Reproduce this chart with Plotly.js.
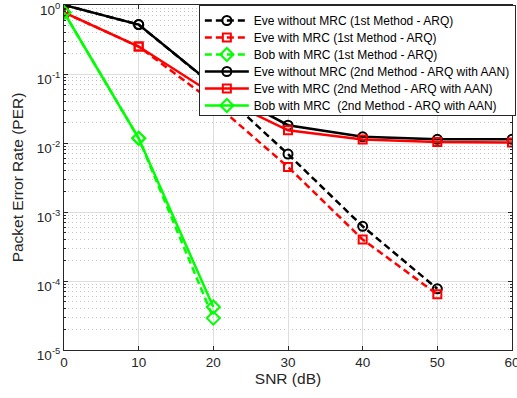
<!DOCTYPE html>
<html>
<head>
<meta charset="utf-8">
<script src="https://cdn.plot.ly/plotly-3.0.1.min.js"></script>
<style>
html,body{margin:0;padding:0;background:#fff;overflow:hidden;}
#chart{width:517px;height:398px;}
</style>
</head>
<body>
<div id="chart"></div>
<script>
// ---- data ----
var snrFirst = [0, 10, 20, 30, 40, 50];
var eveNoMrcFirst = [1.0, 0.52, 0.068, 0.0069, 6.2e-4, 7.7e-5];
var eveMrcFirst = [0.78, 0.25, 0.039, 0.0045, 4.0e-4, 6.4e-5];
var snrBob = [0, 10, 20];
var bobFirst = [0.78, 0.0117, 2.9e-5];
var snrSecond = [0, 10, 20, 30, 40, 50, 60];
var eveNoMrcSecond = [1.0, 0.52, 0.069, 0.0181, 0.0123, 0.0113, 0.0113];
var eveMrcSecond = [0.78, 0.25, 0.051, 0.0153, 0.0112, 0.0103, 0.0102];
var bobSecond = [0.78, 0.0117, 4.2e-5];

var names = [
  'Eve without MRC (1st Method - ARQ)',
  'Eve with MRC (1st Method - ARQ)',
  'Bob with MRC (1st Method - ARQ)',
  'Eve without MRC (2nd Method - ARQ with AAN)',
  'Eve with MRC (2nd Method - ARQ with AAN)',
  'Bob with MRC  (2nd Method - ARQ with AAN)'
];
var xTicks = [0, 10, 20, 30, 40, 50, 60];
var yTicks = [1e-5, 1e-4, 1e-3, 1e-2, 1e-1, 1];
var yTickText = ['10<sup>-5</sup>', '10<sup>-4</sup>', '10<sup>-3</sup>', '10<sup>-2</sup>', '10<sup>-1</sup>', '10<sup>0</sup>'];

function tr(x, y, name, color, dash, symbol, size) {
  return {
    x: x, y: y, name: name, type: 'scatter', mode: 'lines+markers',
    line: {color: color, width: 2.5, dash: dash},
    marker: {symbol: symbol, size: size, color: color, line: {color: color, width: 2}}
  };
}
var DASH = '7px,4px';
var traces = [
  tr(snrFirst, eveNoMrcFirst, names[0], '#000000', DASH, 'circle-open', 9),
  tr(snrFirst, eveMrcFirst, names[1], '#ff0000', DASH, 'square-open', 8),
  tr(snrBob, bobFirst, names[2], '#00ff00', DASH, 'diamond-open', 10),
  tr(snrSecond, eveNoMrcSecond, names[3], '#000000', 'solid', 'circle-open', 9),
  tr(snrSecond, eveMrcSecond, names[4], '#ff0000', 'solid', 'square-open', 8),
  tr(snrBob, bobSecond, names[5], '#00ff00', 'solid', 'diamond-open', 10)
];

var layout = {
  width: 517, height: 398,
  margin: {l: 64, r: 5, t: 5, b: 48, autoexpand: false},
  paper_bgcolor: '#ffffff', plot_bgcolor: '#ffffff',
  font: {family: '"Liberation Sans", Arial, sans-serif', color: '#262626'},
  showlegend: true,
  xaxis: {
    range: [0, 60], tickvals: xTicks, ticks: 'inside', ticklen: 4, tickcolor: '#262626',
    showline: true, linecolor: '#262626', linewidth: 1, mirror: 'ticks',
    showgrid: true, gridcolor: '#dedede', gridwidth: 1, zeroline: false,
    tickfont: {size: 13.5, color: '#262626'}, ticklabeloverflow: 'allow',
    automargin: false,
    title: {text: 'SNR (dB)', font: {size: 15.5, color: '#262626'}, standoff: 1}
  },
  yaxis: {
    type: 'log', range: [-5, 0], tickvals: yTicks, ticktext: yTickText,
    ticks: 'inside', ticklen: 4, tickcolor: '#262626',
    showline: true, linecolor: '#262626', linewidth: 1, mirror: 'ticks',
    showgrid: true, gridcolor: '#dedede', gridwidth: 1, zeroline: false,
    tickfont: {size: 13.5, color: '#262626'}, ticklabeloverflow: 'allow',
    ticklabelshift: 5, automargin: false,
    title: {text: 'Packet Error Rate (PER)', font: {size: 15.5, color: '#262626'}, standoff: 9},
    minor: {dtick: 'D1', ticks: 'inside', ticklen: 2, tickcolor: '#262626',
            showgrid: true, gridcolor: '#c4c4c4', griddash: '1px,3px', gridwidth: 1}
  },
  legend: {
    x: 0.301, y: 1, xanchor: 'left', yanchor: 'top',
    bgcolor: '#ffffff', bordercolor: '#262626', borderwidth: 1,
    font: {size: 12, color: '#000000'}, itemwidth: 44, tracegroupgap: 0
  }
};

Plotly.newPlot('chart', traces, layout, {displayModeBar: false, staticPlot: true}).then(function () {
  // tighten the legend row spacing to match the reference (17px rows)
  var items = document.querySelectorAll('.legend .traces');
  var step = 17, y0 = null, lastY = 0;
  items.forEach(function (g, i) {
    var m = /translate\(([-\d.]+),\s*([-\d.]+)\)/.exec(g.getAttribute('transform') || '');
    if (!m) return;
    var x = parseFloat(m[1]), y = parseFloat(m[2]);
    if (y0 === null) y0 = y;
    lastY = y0 + i * step;
    g.setAttribute('transform', 'translate(' + x + ',' + lastY + ')');
  });
  var bg = document.querySelector('.legend rect.bg');
  if (bg && y0 !== null) {
    bg.setAttribute('height', lastY + 9);
  }
});
</script>
</body>
</html>
